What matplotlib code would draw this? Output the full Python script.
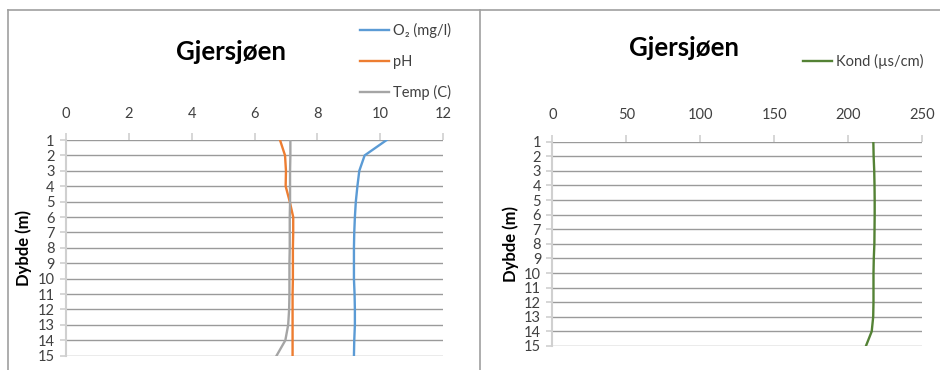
import matplotlib
matplotlib.use("Agg")
import matplotlib.pyplot as plt
from matplotlib.lines import Line2D

plt.rcParams["font.family"] = ["Lato", "DejaVu Sans"]

# depth (m)
depth = list(range(1, 16))

# left chart
o2 = [10.2, 9.5, 9.33, 9.27, 9.22, 9.19, 9.17, 9.16, 9.16, 9.16, 9.18, 9.19, 9.19, 9.17, 9.16]
ph = [6.81, 6.97, 7.0, 6.99, 7.12, 7.23, 7.23, 7.22, 7.22, 7.22, 7.21, 7.21, 7.21, 7.21, 7.21]
temp = [7.14, 7.14, 7.13, 7.13, 7.13, 7.12, 7.12, 7.12, 7.11, 7.11, 7.11, 7.1, 7.07, 6.98, 6.7]
left_xticks = [0, 2, 4, 6, 8, 10, 12]

# right chart
kond = [216.9, 217.1, 217.5, 217.7, 217.8, 217.8, 217.7, 217.6, 217.2, 217.0, 217.0, 217.0, 216.8, 215.8, 211.9]
right_xticks = [0, 50, 100, 150, 200, 250]

GRID = "#9a9a9a"
AXIS = "#d0d0d0"
BORDER = "#a0a0a0"


def style_axes(ax, xticks):
    ax.set_xlim(xticks[0], xticks[-1])
    ax.set_ylim(15, 1)
    ax.set_xticks(xticks)
    ax.set_yticks(depth)
    ax.xaxis.tick_top()
    ax.grid(axis="y", color=GRID, linewidth=1.0)
    ax.set_axisbelow(True)
    for s in ["right", "bottom", "top"]:
        ax.spines[s].set_visible(False)
    ax.spines["left"].set_color(AXIS)
    ax.spines["left"].set_linewidth(1.5)
    ax.tick_params(axis="x", direction="out", length=5, color=AXIS, width=1.2,
                   labelsize=10.5, labelcolor="#404040", pad=9)
    ax.tick_params(axis="y", direction="out", length=4, color=AXIS, width=1.2,
                   labelsize=10.5, labelcolor="#404040", pad=4)
    ax.set_ylabel("Dybde (m)", fontweight="bold", fontsize=12)


fig = plt.figure(figsize=(9.4, 3.7), dpi=100)

# left: O2, pH, temp
ax1 = fig.add_axes([0.0699, 0.0386, 0.4017, 0.583])
ax1.plot(o2, depth, color="#5B9BD5", linewidth=1.7, label="O\u2082 (mg/l)")
ax1.plot(ph, depth, color="#ED7D31", linewidth=1.7, label="pH")
ax1.plot(temp, depth, color="#A5A5A5", linewidth=1.7, label="Temp (C)")
style_axes(ax1, left_xticks)
ax1.yaxis.set_label_coords(-0.089, 0.5)
fig.text(231 / 940, 1 - 52 / 370, "Gjersjøen", fontsize=18.5, fontweight="bold",
         ha="center", va="center")
ax1.legend(loc="upper left", bbox_to_anchor=(354 / 940, 1 - 17 / 370),
           bbox_transform=fig.transFigure, frameon=False, fontsize=10.5,
           handlelength=2.0, handletextpad=0.25, labelspacing=1.15,
           labelcolor="#404040", borderaxespad=0)

# right: conductivity
ax2 = fig.add_axes([0.5876, 0.0649, 0.3936, 0.5521])
ax2.plot(kond, depth, color="#548235", linewidth=1.7, label="Kond (µs/cm)")
style_axes(ax2, right_xticks)
ax2.yaxis.set_label_coords(-0.091, 0.5)
fig.text(684 / 940, 1 - 48 / 370, "Gjersjøen", fontsize=18.5, fontweight="bold",
         ha="center", va="center")
ax2.legend(loc="upper left", bbox_to_anchor=(797 / 940, 1 - 48 / 370),
           bbox_transform=fig.transFigure, frameon=False, fontsize=10.5,
           handlelength=2.0, handletextpad=0.25, labelcolor="#404040",
           borderaxespad=0)

# chart frame lines
fig.add_artist(Line2D([8 / 940, 1], [1 - 10 / 370, 1 - 10 / 370], color=BORDER, linewidth=1.2))
fig.add_artist(Line2D([8 / 940, 8 / 940], [0, 1 - 10 / 370], color=BORDER, linewidth=1.2))
fig.add_artist(Line2D([480 / 940, 480 / 940], [0, 1 - 10 / 370], color=BORDER, linewidth=1.2))

fig.savefig("out.png", dpi=100)
